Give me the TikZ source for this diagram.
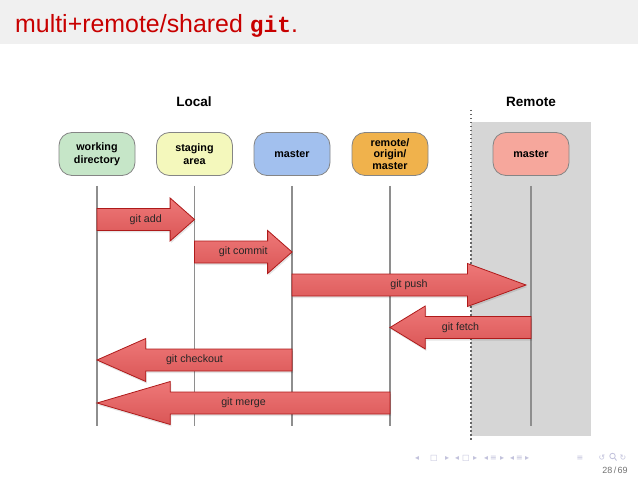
\documentclass[tikz,border=0pt]{standalone}
\usepackage{fontspec}
\setmainfont{Liberation Sans}
\setmonofont{Liberation Mono}
\newfontfamily\navfont{DejaVu Sans}
\usetikzlibrary{calc}
\definecolor{titlebg}{HTML}{F0F0F0}
\definecolor{titlered}{HTML}{C80000}
\definecolor{wdgreen}{HTML}{C6E6C8}
\definecolor{stageyellow}{HTML}{F4F8BC}
\definecolor{masterblue}{HTML}{A2C0EE}
\definecolor{originorange}{HTML}{F0B24C}
\definecolor{remotesalmon}{HTML}{F6A79C}
\definecolor{remotebg}{HTML}{D6D6D6}
\definecolor{arrowtop}{HTML}{EE7878}
\definecolor{arrowbot}{HTML}{DA5656}
\definecolor{arrowedge}{HTML}{AE1A1A}
\definecolor{lifegray}{HTML}{8E8E8E}
\definecolor{navcol}{HTML}{C2C2DC}
\definecolor{boxedge}{HTML}{858585}
\tikzset{
  box/.style={draw=boxedge, line width=0.8bp, rounded corners=13bp,
    minimum width=76bp, minimum height=43bp, align=center, inner sep=0pt,
    font=\fontsize{10.8}{13}\selectfont\bfseries},
  life/.style={draw=lifegray, line width=1.2bp},
  blockarr/.style={draw=arrowedge, line width=0.8bp, top color=arrowtop, bottom color=arrowbot},
  arrshadow/.style={fill=black, opacity=0.10},
  arrlabel/.style={font=\fontsize{10.7}{12}\selectfont, text=black!85, inner sep=0pt},
  heading/.style={font=\fontsize{13.6}{16}\selectfont\bfseries, anchor=base, inner sep=0pt},
  nav/.style={font=\navfont\fontsize{8}{9}\selectfont, text=navcol, inner sep=0pt, anchor=base}
}
% #1 start node, #2 end node, #3 y, #4 end offset (bp), #5 label name, #6 label
\newcommand\blockarrow[6]{%
  \coordinate (#5s) at (#1.south |- 0,#3);
  \coordinate (#5e) at ($(#2.south |- 0,#3)+(#4,0)$);
  \coordinate (#5b) at ($(#5e)!0.25!(#5s)$);
  \fill[arrshadow] ($(#5s)+(1,-9)$) -- ($(#5b)+(1,-9)$) -- ($(#5b)+(1,-19.5)$) -- ($(#5e)+(1,2)$)
     -- ($(#5b)+(1,23.5)$) -- ($(#5b)+(1,13)$) -- ($(#5s)+(1,13)$) -- cycle;
  \draw[blockarr] ($(#5s)+(0,-11)$) -- ($(#5b)+(0,-11)$) -- ($(#5b)+(0,-21.5)$) -- (#5e)
     -- ($(#5b)+(0,21.5)$) -- ($(#5b)+(0,11)$) -- ($(#5s)+(0,11)$) -- cycle;
  \node[arrlabel] (#5) at ($(#5s)!0.5!(#5e)$) {#6};
}
\begin{document}
\begin{tikzpicture}[x=1bp,y=-1bp]
\useasboundingbox (0,0) rectangle (638,479);
\fill[white] (0,0) rectangle (638,479);
% title bar
\fill[titlebg] (0,0) rectangle (638,44);
\node[anchor=base west, text=titlered, inner sep=0pt, font=\fontsize{25}{29}\selectfont] (title) at (15,33)
  {multi+remote/shared {\fontsize{23}{29}\selectfont\texttt{\bfseries git}}.};
% remote area
\fill[remotebg] (471,122) rectangle (591,436);
\coordinate (dashtop) at (471,110);
\coordinate (dashbot) at (471,441);
\draw[dash pattern=on 1.5bp off 2.5bp, draw=black!60, line width=1.2bp] (dashtop) -- (dashbot);
% headings
\node[heading] (local) at (194,107) {Local};
\node[heading] (remote) at (531,107) {Remote};
% nodes
\node[box, fill=wdgreen] (wd) at (97,154) {working\\directory};
\node[box, fill=stageyellow] (sa) at (194.5,154) {staging\\area};
\node[box, fill=masterblue] (lm) at (292,154) {master};
\node[box, fill=originorange, font=\fontsize{10.8}{11.6}\selectfont\bfseries] (om) at (390,154) {remote/\\origin/\\master};
\node[box, fill=remotesalmon] (rm) at (531,154) {master};
% lifelines
\foreach \n in {wd,sa,lm,om,rm}{
  \coordinate (\n top) at (\n.south |- 0,186);
  \coordinate (\n bot) at (\n.south |- 0,426);
  \draw[life] (\n top) -- (\n bot);
}
% block arrows
\blockarrow{wd}{sa}{219.5}{0}{gitadd}{git add}
\blockarrow{sa}{lm}{252}{0}{gitcommit}{git commit}
\blockarrow{lm}{rm}{285}{-5}{gitpush}{git push}
\blockarrow{rm}{om}{327.5}{0}{gitfetch}{git fetch}
\blockarrow{lm}{wd}{360}{0}{gitcheckout}{git checkout}
\blockarrow{om}{wd}{403}{0}{gitmerge}{git merge}
% navigation symbols
\foreach \x/\g [count=\i] in {417/◂,434/□,447/▸,457/◂,466/□,475/▸,486/◂,493.5/≡,502/▸,512/◂,519.5/≡,527/▸,580/≡,602/↺,623/↻}{
  \node[nav] (nav\i) at (\x,460) {\g};
}
\node[draw=navcol, circle, line width=0.8bp, minimum size=5.5bp, inner sep=0pt] (search) at (612.5,456) {};
\coordinate (searchend) at (616.5,460.5);
\draw[navcol, line width=0.9bp] (search.south east) -- (searchend);
\node[anchor=base, inner sep=0pt, font=\fontsize{9}{10}\selectfont, text=black!55] (page) at (615,473) {28\,/\,69};
\end{tikzpicture}
\end{document}
